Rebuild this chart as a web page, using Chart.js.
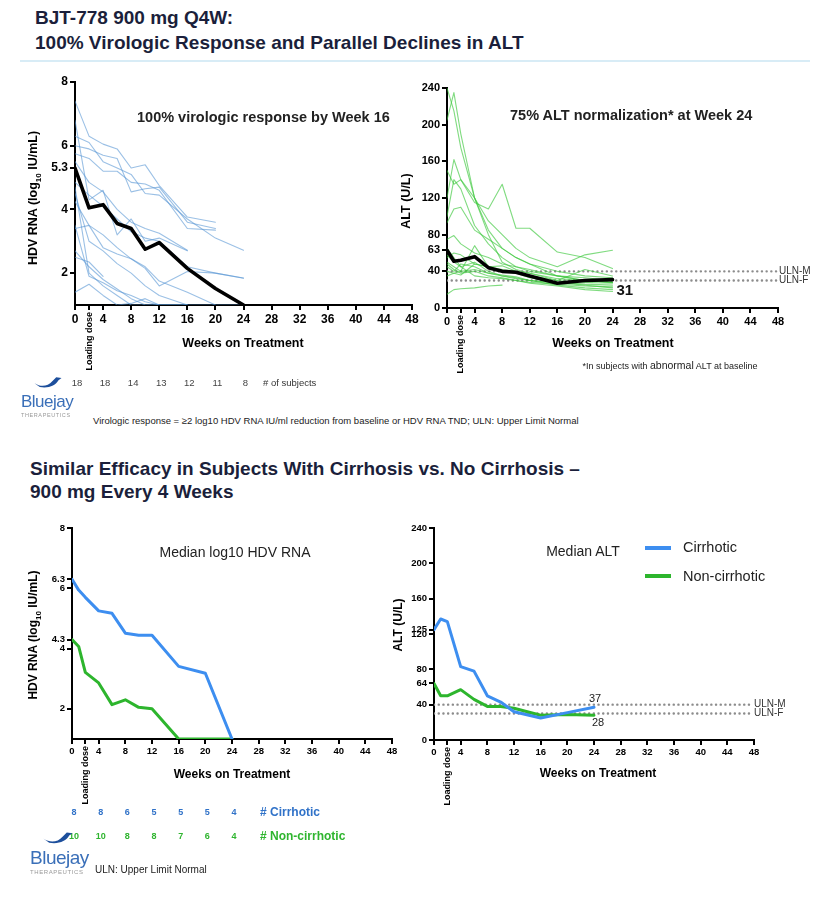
<!DOCTYPE html>
<html>
<head>
<meta charset="utf-8">
<script src="https://cdn.jsdelivr.net/npm/chart.js@4.4.0/dist/chart.umd.min.js"></script>
<style>
body{margin:0;background:#fff;width:828px;height:897px;position:relative;overflow:hidden;font-family:"Liberation Sans",Arial,sans-serif}
canvas{position:absolute}
.t{position:absolute;white-space:nowrap;color:#000;line-height:1}
.c{transform:translate(-50%,-50%)}
.l{transform:translate(0,-50%)}
.r{transform:translate(-50%,-50%) rotate(-90deg)}
.ttl{font-family:"Liberation Sans",Arial;font-weight:bold;color:#1b1f3b}
.logo{position:absolute}
</style>
</head>
<body>
<canvas id="c1" width="410" height="310" style="left:20px;top:72px"></canvas>
<canvas id="c2" width="410" height="308" style="left:410px;top:78px"></canvas>
<canvas id="c3" width="400" height="298" style="left:20px;top:518px"></canvas>
<canvas id="c4" width="420" height="300" style="left:400px;top:518px"></canvas>

<div class="t l ttl" style="left:35px;top:17px;font-size:19px">BJT-778 900 mg Q4W:</div>
<div class="t l ttl" style="left:35px;top:42px;font-size:19px">100% Virologic Response and Parallel Declines in ALT</div>
<div style="position:absolute;left:20px;top:60px;width:790px;height:2px;background:#d8ecf6"></div>

<div class="t l" style="left:137px;top:117px;font-size:14.5px;font-weight:bold;color:#222">100% virologic response by Week 16</div>
<div class="t l" style="left:510px;top:115px;font-size:14.5px;font-weight:bold;color:#222">75% ALT normalization* at Week 24</div>
<div class="t r" style="left:35px;top:198px;font-size:12.5px;font-weight:bold">HDV RNA (log<sub style="font-size:8px">10</sub> IU/mL)</div>
<div class="t r" style="left:406px;top:201px;font-size:12.5px;font-weight:bold">ALT (U/L)</div>
<div class="t c" style="left:243px;top:343px;font-size:12.5px;font-weight:bold">Weeks on Treatment</div>
<div class="t c" style="left:613px;top:343px;font-size:12.5px;font-weight:bold">Weeks on Treatment</div>
<div class="t c" style="left:670px;top:365px;font-size:9px;color:#222">*In subjects with <span style="font-size:10.5px">abnormal</span> ALT at baseline</div>
<div id="row1"></div>
<div class="t l" style="left:263px;top:383px;font-size:9.5px;color:#333"># of subjects</div>
<div class="t l" style="left:93px;top:421px;font-size:9.5px;color:#222">Virologic response = ≥2 log10 HDV RNA IU/ml reduction from baseline or HDV RNA TND; ULN: Upper Limit Normal</div>

<div class="t l ttl" style="left:30px;top:468px;font-size:19px">Similar Efficacy in Subjects With Cirrhosis vs. No Cirrhosis –</div>
<div class="t l ttl" style="left:30px;top:491px;font-size:19px">900 mg Every 4 Weeks</div>

<div class="t c" style="left:235px;top:552px;font-size:14px;color:#222">Median log10 HDV RNA</div>
<div class="t c" style="left:583px;top:551px;font-size:14px;color:#222">Median ALT</div>
<div style="position:absolute;left:645px;top:546px;width:26px;height:4px;background:#3d8ef0"></div>
<div class="t l" style="left:683px;top:547px;font-size:14.5px;color:#222">Cirrhotic</div>
<div style="position:absolute;left:645px;top:574px;width:26px;height:4px;background:#2db52d"></div>
<div class="t l" style="left:683px;top:576px;font-size:14.5px;color:#222">Non-cirrhotic</div>
<div class="t r" style="left:35px;top:635px;font-size:12px;font-weight:bold">HDV RNA (log<sub style="font-size:8px">10</sub> IU/mL)</div>
<div class="t r" style="left:398px;top:625px;font-size:12px;font-weight:bold">ALT (U/L)</div>
<div class="t c" style="left:232px;top:774px;font-size:12px;font-weight:bold">Weeks on Treatment</div>
<div class="t c" style="left:598px;top:773px;font-size:12px;font-weight:bold">Weeks on Treatment</div>
<div id="row2"></div>
<div class="t l" style="left:260px;top:812px;font-size:12px;font-weight:bold;color:#3072c8"># Cirrhotic</div>
<div class="t l" style="left:260px;top:836px;font-size:12px;font-weight:bold;color:#2fb52f"># Non-cirrhotic</div>
<div class="t l" style="left:95px;top:870px;font-size:10px;color:#222">ULN: Upper Limit Normal</div>

<div class="logo" style="left:21px;top:375px">
  <svg width="30" height="15" viewBox="0 0 40 18" style="margin-left:12px"><path d="M2 10 C10 15 19 15 26 7 L31 2 L38 3 L34 6 C30 13 21 17 9 15 Z" fill="#1d4f9c"/></svg>
  <div style="font-size:17px;color:#3a6fb8;margin-top:-2px;letter-spacing:-0.5px">Bluejay</div>
  <div style="font-size:5.5px;color:#999;letter-spacing:0.6px">THERAPEUTICS</div>
</div>
<div class="logo" style="left:30px;top:830px">
  <svg width="32" height="16" viewBox="0 0 40 18" style="margin-left:12px"><path d="M2 10 C10 15 19 15 26 7 L31 2 L38 3 L34 6 C30 13 21 17 9 15 Z" fill="#1d4f9c"/></svg>
  <div style="font-size:19px;color:#3a6fb8;margin-top:-3px;letter-spacing:-0.5px">Bluejay</div>
  <div style="font-size:6px;color:#999;letter-spacing:0.6px">THERAPEUTICS</div>
</div>

<script>
// ---- data ----
const xTickVals = [0, 2, 4, 8, 12, 16, 20, 24, 28, 32, 36, 40, 44, 48];
const countWeeks = [0, 4, 8, 12, 16, 20, 24];

// top left: individual HDV RNA (log10 IU/mL)
const weeksHdv = [0, 2, 4, 6, 8, 10, 12, 16, 20, 24];
const hdvMedian = [5.3, 4.05, 4.15, 3.56, 3.4, 2.75, 2.96, 2.15, 1.52, 1.0];
const hdvSubjects = [
  [7.4, 6.3, 6.05, 5.9, 5.3, 5.4, 4.75, 3.76, 3.6, null],
  [6.0, 5.9, 5.7, 5.6, 4.55, 4.65, 4.7, 3.6, 3.4, null],
  [5.75, 5.6, 5.2, 5.2, 4.85, 4.8, 4.6, 3.4, 3.35, null],
  [6.3, 6.1, 5.5, 5.3, 5.1, 4.5, 4.45, 3.7, 3.1, 2.72],
  [5.5, 4.85, 4.55, 4.0, 3.6, 3.4, 3.25, 2.72, null, null],
  [4.85, 4.45, 4.1, 3.7, 3.3, 3.1, 3.0, 2.2, 2.0, 1.85],
  [4.25, 3.5, 3.2, 2.8, 2.45, 2.2, 1.75, 1.4, 1.0, null],
  [3.4, 3.5, 2.8, 2.6, 2.45, 2.15, 1.6, 2.05, 2.0, 1.84],
  [6.8, 4.3, 4.6, 3.2, 3.7, 3.0, 3.1, 2.7, null, null],
  [2.7, 2.2, 1.8, 1.5, 1.2, 1.0, 1.0, 1.0, null, null],
  [2.5, 2.35, 1.9, null, null, null, null, null, null, null],
  [1.4, 1.65, 1.3, 1.0, 1.05, 1.2, 1.0, 1.0, null, null],
  [3.5, 1.9, 1.7, 1.45, 1.3, 1.1, 1.0, 1.0, null, null],
  [4.5, 3.0, 2.7, 2.3, 2.0, 1.6, 1.3, 1.0, 1.0, 1.0],
  [4.7, 2.0, 1.6, 1.3, 1.0, 1.0, 1.0, null, null, null]
];
const hdvTicksTop = [2, 4, 5.3, 6, 8];

// top right: individual ALT (U/L)
const weeksAlt = [0, 1, 2, 4, 6, 8, 10, 12, 16, 20, 24];
const altMedian = [63, 51, 52, 56, 44, 40, 39, 35, 27, 30, 31];
const altSubjects = [
  [205, 235, 190, 120, 80, 50, 42, 38, 30, 28, 27],
  [240, 215, 175, 120, 85, 65, 55, 48, 35, 30, 28],
  [120, 162, 140, 115, 108, 135, 87, 87, 61, 55, 43],
  [150, 135, 140, 120, 95, 80, 65, 55, 45, 58, 63],
  [93, 108, 110, 85, 75, 65, 55, 48, 40, 35, 33],
  [75, 79, 70, 60, 55, 48, 45, 40, 35, 33, 30],
  [15, 20, 21, 22, 24, 25, null, null, null, null, null],
  [50, 45, 40, 68, 45, 40, 38, 33, 28, 25, 22],
  [65, 55, 45, 50, 40, 35, 32, 30, 25, 22, 20],
  [48, 42, 38, 40, 35, 33, 30, 27, 24, 20, 18],
  [55, 60, 58, 48, 45, 42, 40, 38, 32, 30, 28],
  [45, 40, 48, 45, 38, 36, 34, 30, 28, 26, 25],
  [35, 38, 40, 42, 38, 35, 33, 30, 27, 30, 30],
  [58, 50, 45, 35, 33, 32, 30, 28, 26, 24, 23],
  [40, 38, 36, 48, 45, 46, 40, 35, 30, 42, 35],
  [100, 140, 130, 90, 70, 55, 45, 42, 35, 30, 28]
];
const altTicksTop = [0, 40, 63, 80, 120, 160, 200, 240];

// bottom: medians by cirrhosis status
const weeksMed = [0, 1, 2, 4, 6, 8, 10, 12, 16, 20, 24];
const cirrHdv = [6.3, 5.94, 5.7, 5.25, 5.17, 4.51, 4.44, 4.44, 3.41, 3.18, 1.0];
const nonHdv = [4.3, 4.07, 3.21, 2.86, 2.14, 2.3, 2.05, 2.0, 1.0, 1.0, 1.0];
const cirrAlt = [125, 137, 134, 83, 78, 50, 43, 32, 25, 31, 37];
const nonAlt = [64, 50, 50, 57, 46, 38, 38, 36, 28, 29, 28];
const hdvTicksBottom = [2, 4, 4.3, 6, 6.3, 8];
const altTicksBottom = [0, 40, 64, 80, 120, 125, 160, 200, 240];

const ulnMale = 40;
const ulnFemale = 30;

const nSubjects = [18, 18, 14, 13, 12, 11, 8];
const nCirrhotic = [8, 8, 6, 5, 5, 5, 4];
const nNonCirrhotic = [10, 10, 8, 8, 7, 6, 4];

// ---- helpers ----
Chart.defaults.font.family = '"Liberation Sans", Arial, sans-serif';
Chart.defaults.color = '#000';

const pts = (wk, vals) => wk.map((w, i) => ({ x: w, y: vals[i] }));
const line = (data, color, width) => ({
  data, borderColor: color, borderWidth: width, pointRadius: 0, tension: 0,
  borderJoinStyle: 'round', borderCapStyle: 'round', fill: false
});
const ulnLine = (v, xmax) => ({
  data: [{ x: 0, y: v }, { x: xmax, y: v }], borderColor: '#8c8c8c', borderWidth: 2.4,
  borderDash: [0.1, 4.6], borderCapStyle: 'round', pointRadius: 0
});

// extra space under the x axis so the rotated "Loading dose" label fits
const BELOW = 50;

const extras = {
  id: 'extras',
  afterDraw(chart, args, opts) {
    const { ctx, scales: { x, y } } = chart;
    ctx.save();
    ctx.fillStyle = '#000';
    ctx.font = 'bold ' + opts.ld + 'px "Liberation Sans", Arial';
    ctx.translate(x.getPixelForValue(2), y.bottom + 7);
    ctx.rotate(-Math.PI / 2);
    ctx.textAlign = 'right';
    ctx.textBaseline = 'middle';
    ctx.fillText('Loading dose', 0, 0);
    ctx.restore();
    (opts.labels || []).forEach(l => {
      ctx.save();
      ctx.font = l.font;
      ctx.fillStyle = l.color || '#000';
      ctx.textAlign = l.align || 'left';
      ctx.textBaseline = 'middle';
      ctx.fillText(l.text, x.getPixelForValue(l.x) + (l.dx || 0), y.getPixelForValue(l.y) + (l.dy || 0));
      ctx.restore();
    });
  }
};

function makeChart(id, o) {
  const axisGrid = { display: true, drawOnChartArea: false, drawTicks: true, tickLength: 5, color: '#000', lineWidth: 2 };
  const border = { display: true, color: '#000', width: 2 };
  return new Chart(document.getElementById(id), {
    type: 'line',
    data: { datasets: o.datasets },
    options: {
      responsive: false,
      animation: false,
      layout: { padding: { top: 10, right: o.right, left: 0, bottom: 0 } },
      plugins: { legend: { display: false }, tooltip: { enabled: false }, extras: { ld: o.ld, labels: o.labels } },
      scales: {
        x: {
          type: 'linear', min: 0, max: 48,
          afterBuildTicks: s => { s.ticks = xTickVals.map(v => ({ value: v })); },
          afterFit: s => { s.height = o.xh + BELOW; },
          grid: axisGrid, border,
          ticks: { autoSkip: false, maxRotation: 0, padding: 2, font: { size: o.fs, weight: 'bold' }, callback: v => v === 2 ? '' : v }
        },
        y: {
          type: 'linear', min: o.ymin, max: o.ymax,
          afterBuildTicks: s => { s.ticks = o.yticks.map(v => ({ value: v })); },
          afterFit: s => { s.width = o.yw; },
          grid: axisGrid, border,
          ticks: { autoSkip: false, padding: 2, font: { size: o.fs, weight: 'bold' }, callback: v => String(v) }
        }
      }
    },
    plugins: [extras]
  });
}

// ---- chart 1: HDV RNA individual ----
const ds1 = [line(pts(weeksHdv, hdvMedian), '#000', 3.6)];
hdvSubjects.forEach(s => ds1.push(line(pts(weeksHdv, s), 'rgba(88,150,212,0.6)', 1.1)));
const ch1 = makeChart('c1', { datasets: ds1, right: 18, xh: 27, yw: 55, ymin: 1, ymax: 8, yticks: hdvTicksTop, fs: 12, ld: 9 });

// ---- chart 2: ALT individual ----
const ds2 = [line(pts(weeksAlt, altMedian), '#000', 3.6)];
altSubjects.forEach(s => ds2.push(line(pts(weeksAlt, s), 'rgba(60,200,60,0.65)', 1.1)));
ds2.push(ulnLine(ulnMale, 47.8), ulnLine(ulnFemale, 47.8));
const ch2 = makeChart('c2', {
  datasets: ds2, right: 42, xh: 28, yw: 37, ymin: 0, ymax: 240, yticks: altTicksTop, fs: 11, ld: 9,
  labels: [
    { text: 'ULN-M', x: 48, y: ulnMale, dx: 1, font: '10px "Liberation Sans", Arial', color: '#333' },
    { text: 'ULN-F', x: 48, y: ulnFemale, dx: 1, font: '10px "Liberation Sans", Arial', color: '#333' },
    { text: String(altMedian[altMedian.length - 1]), x: 24, y: altMedian[altMedian.length - 1], dx: 4, dy: 11, font: 'bold 15px "Liberation Sans", Arial', color: '#111' }
  ]
});

// ---- chart 3: median HDV RNA by cirrhosis ----
const ch3 = makeChart('c3', {
  datasets: [line(pts(weeksMed, cirrHdv), '#3d8ef0', 3), line(pts(weeksMed, nonHdv), '#2db52d', 3)],
  right: 28, xh: 27, yw: 52, ymin: 1, ymax: 8, yticks: hdvTicksBottom, fs: 9.5, ld: 9
});

// ---- chart 4: median ALT by cirrhosis ----
const ch4 = makeChart('c4', {
  datasets: [line(pts(weeksMed, cirrAlt), '#3d8ef0', 3), line(pts(weeksMed, nonAlt), '#2db52d', 3),
             ulnLine(ulnMale, 47.8), ulnLine(ulnFemale, 47.8)],
  right: 66, xh: 28, yw: 34, ymin: 0, ymax: 240, yticks: altTicksBottom, fs: 9.5, ld: 9,
  labels: [
    { text: 'ULN-M', x: 48, y: ulnMale, dx: 0, font: '10px "Liberation Sans", Arial', color: '#333' },
    { text: 'ULN-F', x: 48, y: ulnFemale, dx: 0, font: '10px "Liberation Sans", Arial', color: '#333' },
    { text: String(cirrAlt[cirrAlt.length - 1]), x: 24, y: cirrAlt[cirrAlt.length - 1], dx: 1, dy: -8, align: 'center', font: '11px "Liberation Sans", Arial', color: '#222' },
    { text: String(nonAlt[nonAlt.length - 1]), x: 24, y: nonAlt[nonAlt.length - 1], dx: 4, dy: 8, align: 'center', font: '11px "Liberation Sans", Arial', color: '#222' }
  ]
});

// ---- subject count rows, positioned from the x scales ----
function countRow(chart, canvasLeft, counts, top, style, holder) {
  const h = document.getElementById(holder);
  counts.forEach((n, i) => {
    const d = document.createElement('div');
    d.className = 't c';
    d.textContent = n;
    d.style.cssText = 'left:' + (canvasLeft + chart.scales.x.getPixelForValue(countWeeks[i]) + 2) + 'px;top:' + top + 'px;' + style;
    h.appendChild(d);
  });
}
countRow(ch1, 20, nSubjects, 383, 'font-size:9.5px;color:#444', 'row1');
countRow(ch3, 20, nCirrhotic, 812, 'font-size:9px;font-weight:bold;color:#3072c8', 'row2');
countRow(ch3, 20, nNonCirrhotic, 836, 'font-size:9px;font-weight:bold;color:#2fb52f', 'row2');
</script>
</body>
</html>
